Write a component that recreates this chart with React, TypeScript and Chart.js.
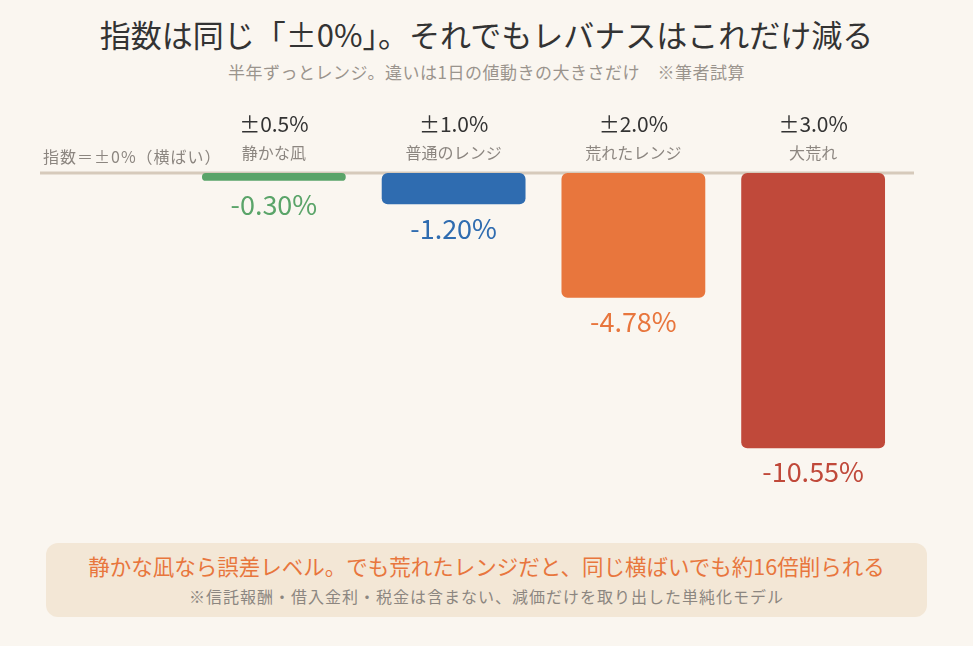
import { useEffect, useRef } from 'react'
import { Chart, registerables } from 'chart.js'

Chart.register(...registerables)

const ranges = ['±0.5%', '±1.0%', '±2.0%', '±3.0%']
const names = ['静かな凪', '普通のレンジ', '荒れたレンジ', '大荒れ']
const losses = [-0.3, -1.2, -4.78, -10.55]
const valueLabels = ['-0.30%', '-1.20%', '-4.78%', '-10.55%']
const colors = ['#5aa469', '#2f6cb0', '#e8763d', '#c0493a']

const FONT = '"Noto Sans CJK JP", "Noto Sans", sans-serif'

const labelsPlugin = {
  id: 'labels',
  beforeDatasetsDraw(chart: Chart) {
    const { ctx } = chart
    const y0 = chart.scales.y.getPixelForValue(0)
    ctx.save()
    ctx.strokeStyle = '#d6cabb'
    ctx.lineWidth = 3
    ctx.beginPath()
    ctx.moveTo(40, y0)
    ctx.lineTo(914, y0)
    ctx.stroke()

    // left caption for the zero line
    ctx.fillStyle = '#8c8680'
    ctx.font = `16px ${FONT}`
    ;(ctx as any).letterSpacing = '1px'
    ctx.textAlign = 'left'
    ctx.textBaseline = 'middle'
    ctx.fillText('指数＝±0%（横ばい）', 43, y0 - 16)
    ctx.restore()
  },
  afterDatasetsDraw(chart: Chart) {
    const { ctx } = chart
    const meta = chart.getDatasetMeta(0)
    const y0 = chart.scales.y.getPixelForValue(0)
    ctx.save()
    ctx.textAlign = 'center'
    ctx.textBaseline = 'middle'
    meta.data.forEach((bar: any, i: number) => {
      ctx.fillStyle = '#333333'
      ctx.font = `21px ${FONT}`
      ctx.fillText(ranges[i], bar.x, y0 - 49)
      ctx.fillStyle = '#8c8680'
      ctx.font = `16px ${FONT}`
      ctx.fillText(names[i], bar.x, y0 - 20)
      ctx.fillStyle = colors[i]
      ctx.font = `27px ${FONT}`
      ctx.fillText(valueLabels[i], bar.x, bar.y + 24)
    })
    ctx.restore()
  },
}

function LossChart() {
  const canvasRef = useRef<HTMLCanvasElement>(null)
  const chartRef = useRef<Chart | null>(null)

  useEffect(() => {
    if (!canvasRef.current) return
    if (chartRef.current) chartRef.current.destroy()

    chartRef.current = new Chart(canvasRef.current, {
      type: 'bar',
      data: {
        labels: names,
        datasets: [
          {
            data: losses,
            backgroundColor: colors,
            borderRadius: 6,
            borderSkipped: false,
            barPercentage: 0.8,
            categoryPercentage: 1,
          },
        ],
      },
      options: {
        responsive: true,
        maintainAspectRatio: false,
        animation: false,
        layout: { padding: { left: 184, right: 70, top: 78, bottom: 34 } },
        plugins: { legend: { display: false }, tooltip: { enabled: false } },
        scales: {
          x: { display: false },
          y: { display: false, min: -12, max: 0 },
        },
      },
      plugins: [labelsPlugin],
    })

    return () => { chartRef.current?.destroy() }
  }, [])

  return (
    <div style={{ position: 'absolute', left: 0, top: 95, width: 973, height: 425 }}>
      <canvas ref={canvasRef} />
    </div>
  )
}

export default function App() {
  return (
    <div
      style={{
        position: 'absolute',
        left: 0,
        top: 0,
        width: 973,
        height: 646,
        background: '#faf6f0',
        fontFamily: FONT,
        overflow: 'hidden',
      }}
    >
      <div style={{ position: 'absolute', top: 14, left: 0, width: 973, textAlign: 'center', fontSize: 31, lineHeight: '40px', color: '#333333' }}>
        指数は同じ「±0%」。それでもレバナスはこれだけ減る
      </div>
      <div style={{ position: 'absolute', top: 61, left: 0, width: 973, textAlign: 'center', fontSize: 17, lineHeight: '22px', color: '#9a948d', letterSpacing: 0.5 }}>
        半年ずっとレンジ。違いは1日の値動きの大きさだけ　※筆者試算
      </div>
      <LossChart />
      <div
        style={{
          position: 'absolute',
          left: 46,
          top: 543,
          width: 881,
          height: 74,
          background: '#f3e7d6',
          borderRadius: 12,
          textAlign: 'center',
        }}
      >
        <div style={{ marginTop: 9, fontSize: 21.5, lineHeight: '28px', color: '#e8763d' }}>
          静かな凪なら誤差レベル。でも荒れたレンジだと、同じ横ばいでも約16倍削られる
        </div>
        <div style={{ marginTop: 6, fontSize: 16, lineHeight: '20px', color: '#8c8680', letterSpacing: 1 }}>
          ※信託報酬・借入金利・税金は含まない、減価だけを取り出した単純化モデル
        </div>
      </div>
    </div>
  )
}
